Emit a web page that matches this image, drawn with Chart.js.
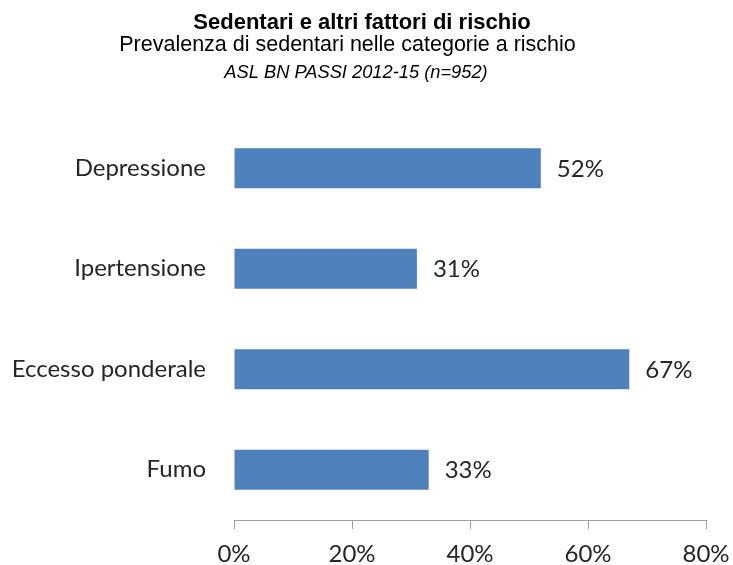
<!DOCTYPE html>
<html><head><meta charset="utf-8">
<script src="https://cdn.jsdelivr.net/npm/chart.js"></script>
<style>html,body{margin:0;padding:0;background:#fff}</style>
</head><body>
<div style="width:733px;height:565px;position:relative"><canvas id="c"></canvas></div>
<script>
const titleText = 'Sedentari e altri fattori di rischio';
const subtitleText = 'Prevalenza di sedentari nelle categorie a rischio';
const noteText = 'ASL BN PASSI 2012-15 (n=952)';
const categories = ['Depressione', 'Ipertensione', 'Eccesso ponderale', 'Fumo'];
const values = [52, 31, 67, 33];
const xTicks = [0, 20, 40, 60, 80];

const labelFont = {family: 'Lato', size: 24};
const textColor = '#262626';

const headerPlugin = {
  id: 'header',
  afterDraw(chart) {
    const ctx = chart.ctx;
    ctx.save();
    ctx.fillStyle = '#000';
    ctx.textAlign = 'center';
    ctx.textBaseline = 'alphabetic';
    ctx.font = 'bold 22px "Liberation Sans"';
    ctx.fillText(titleText, 362, 29);
    ctx.font = '21.5px "Liberation Sans"';
    ctx.fillText(subtitleText, 347.5, 51);
    ctx.font = 'italic 18.3px "Liberation Sans"';
    ctx.fillText(noteText, 356, 78);
    ctx.restore();
  }
};

const valueLabels = {
  id: 'valueLabels',
  afterDatasetsDraw(chart) {
    const ctx = chart.ctx;
    ctx.save();
    ctx.fillStyle = textColor;
    ctx.font = '24px Lato';
    ctx.textAlign = 'left';
    ctx.textBaseline = 'middle';
    const meta = chart.getDatasetMeta(0);
    meta.data.forEach((bar, i) => {
      ctx.fillText(values[i] + '%', bar.x + 16, bar.y + 1);
    });
    ctx.restore();
  }
};

new Chart(document.getElementById('c'), {
  type: 'bar',
  data: {
    labels: categories,
    datasets: [{
      data: values,
      backgroundColor: '#4F81BD',
      borderWidth: 0,
      categoryPercentage: 1,
      barPercentage: 0.4
    }]
  },
  options: {
    indexAxis: 'y',
    responsive: true,
    maintainAspectRatio: false,
    animation: false,
    layout: {padding: {top: 118, right: 27, left: 0, bottom: 0}},
    plugins: {legend: {display: false}, tooltip: {enabled: false}},
    scales: {
      x: {
        min: 0, max: 80,
        afterBuildTicks(s) { s.ticks = xTicks.map(v => ({value: v})); },
        afterFit(s) { s.height = 45; s.paddingLeft = 0; s.paddingRight = 0; },
        grid: {drawOnChartArea: false, drawTicks: true, tickLength: 9, color: '#a0a0a0', lineWidth: 1},
        border: {display: true, color: '#a0a0a0', width: 1},
        ticks: {
          callback: v => v + '%',
          font: labelFont, color: textColor, padding: 11, maxRotation: 0
        }
      },
      y: {
        afterFit(s) { s.width = 234; s.paddingTop = 0; s.paddingBottom = 0; },
        grid: {display: false},
        border: {display: false},
        ticks: {font: labelFont, color: textColor, padding: 20}
      }
    }
  },
  plugins: [headerPlugin, valueLabels]
});
</script>
</body></html>
